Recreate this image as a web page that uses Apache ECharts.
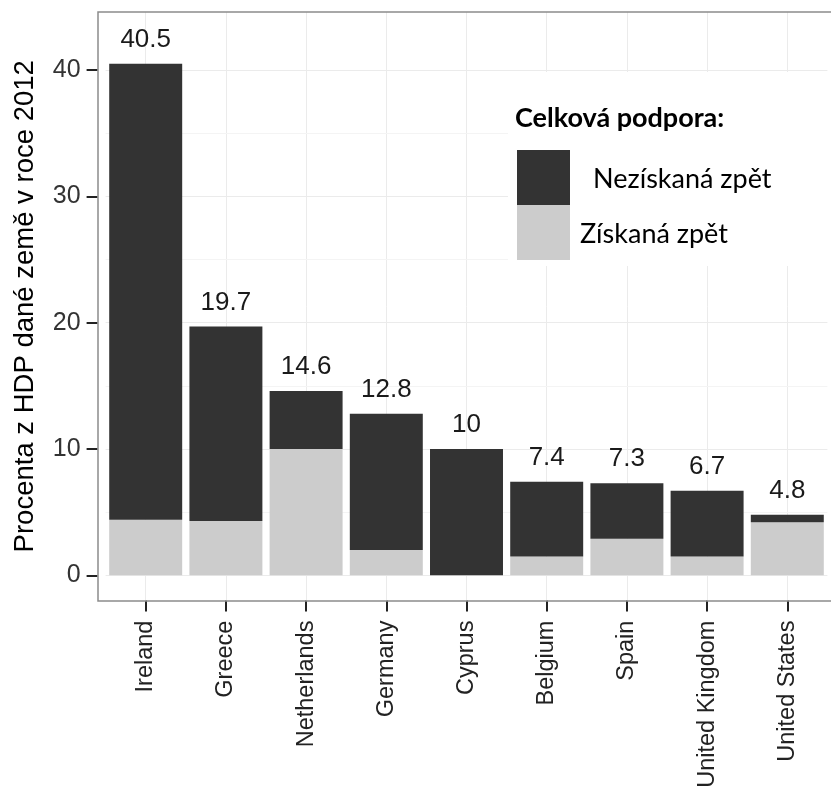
<!DOCTYPE html>
<html lang="cs">
<head>
    <meta charset="UTF-8">
    <title>Podpora bank v roce 2012</title>
    <script src="https://cdn.jsdelivr.net/npm/echarts@6/dist/echarts.min.js"></script>
    <style>html, body { margin: 0; padding: 0; background: #fff; }</style>
</head>
<body>
    <div id="chart" style="width: 831px; height: 791px;"></div>

    <script>
        var zeme = ['Ireland', 'Greece', 'Netherlands', 'Germany', 'Cyprus', 'Belgium', 'Spain', 'United Kingdom', 'United States'];
        var celkem = [40.5, 19.7, 14.6, 12.8, 10, 7.4, 7.3, 6.7, 4.8];
        var ziskano = [4.4, 4.3, 10.0, 2.0, 0, 1.5, 2.9, 1.5, 4.2];
        var neziskano = [36.1, 15.4, 4.6, 10.8, 10, 5.9, 4.4, 5.2, 0.6];
        var yTicks = [0, 10, 20, 30, 40];
        var yMinor = [5, 15, 25, 35];

        var chart = echarts.init(document.getElementById('chart'));

        // mrizka za sloupci: svisle na stredech kategorii + vedlejsi vodorovne
        var mrizka = zeme.map(function (z) { return { xAxis: z }; })
            .concat(yMinor.map(function (v) {
                return { yAxis: v, lineStyle: { color: '#f4f4f4' } };
            }));

        chart.setOption({
            animation: false,
            title: {
                text: 'Celková podpora:',
                left: 510,
                top: 100,
                textStyle: { fontFamily: 'Lato', fontSize: 27, fontWeight: 'bold', color: '#000' },
                z: 6
            },
            legend: {
                data: ['Nezískaná zpět', 'Získaná zpět'],
                orient: 'vertical',
                left: 517,
                top: 150,
                padding: 0,
                itemWidth: 53,
                itemHeight: 55,
                itemGap: 0,
                icon: 'rect',
                selectedMode: false,
                formatter: function (name) {
                    return name === 'Nezískaná zpět' ? '{n|' + name + '}' : '{z|' + name + '}';
                },
                textStyle: {
                    fontFamily: 'Lato',
                    fontSize: 27,
                    color: '#000',
                    rich: {
                        n: { fontFamily: 'Lato', fontSize: 27, color: '#000', padding: [4, 0, 0, 18] },
                        z: { fontFamily: 'Lato', fontSize: 27, color: '#000', padding: [3, 0, 0, 5] }
                    }
                }
            },
            graphic: [
                {
                    type: 'rect',
                    shape: { x: 508, y: 72, width: 330, height: 194 },
                    style: { fill: '#fff' },
                    silent: true,
                    z: 1
                },
                {
                    type: 'rect',
                    shape: { x: 98, y: 12, width: 745, height: 589 },
                    style: { fill: 'none', stroke: '#8c8c8c', lineWidth: 1.5 },
                    silent: true,
                    z: 10
                }
            ],
            grid: {
                left: 105.6,
                top: 12,
                width: 721.8,
                height: 588.6,
                containLabel: false,
                outerBoundsMode: 'none'
            },
            xAxis: {
                type: 'category',
                data: zeme,
                axisLine: { show: false, onZero: false },
                axisTick: { show: true, alignWithLabel: true, length: 11, lineStyle: { color: '#222', width: 2 } },
                axisLabel: {
                    rotate: 90,
                    margin: 20,
                    fontFamily: 'Liberation Sans',
                    fontSize: 23.5,
                    color: '#222'
                },
                splitLine: { show: false }
            },
            yAxis: {
                type: 'value',
                min: -2,
                max: 44.6,
                offset: 8,
                name: 'Procenta z HDP dané země v roce 2012',
                nameLocation: 'middle',
                nameGap: 58,
                nameTextStyle: { fontFamily: 'Liberation Sans', fontSize: 27.5, color: '#000' },
                axisLine: { show: false },
                axisTick: { show: true, customValues: yTicks, length: 11, lineStyle: { color: '#222', width: 2 } },
                axisLabel: {
                    customValues: yTicks,
                    margin: 17,
                    fontFamily: 'Liberation Sans',
                    fontSize: 25,
                    color: '#333'
                },
                splitLine: { show: true, lineStyle: { color: '#ebebeb', width: 1 } }
            },
            series: [
                {
                    name: 'Získaná zpět',
                    type: 'bar',
                    stack: 'podpora',
                    data: ziskano,
                    barCategoryGap: '9%',
                    itemStyle: { color: '#cccccc' },
                    markLine: {
                        silent: true,
                        symbol: 'none',
                        z: 0.5,
                        label: { show: false },
                        lineStyle: { color: '#ebebeb', type: 'solid', width: 1 },
                        data: mrizka
                    }
                },
                {
                    name: 'Nezískaná zpět',
                    type: 'bar',
                    stack: 'podpora',
                    data: neziskano,
                    barCategoryGap: '9%',
                    itemStyle: { color: '#333333' },
                    label: {
                        show: true,
                        position: 'top',
                        distance: 11,
                        formatter: function (p) { return celkem[p.dataIndex]; },
                        fontFamily: 'Liberation Sans',
                        fontSize: 26,
                        color: '#1a1a1a'
                    }
                }
            ]
        });
    </script>
</body>
</html>
